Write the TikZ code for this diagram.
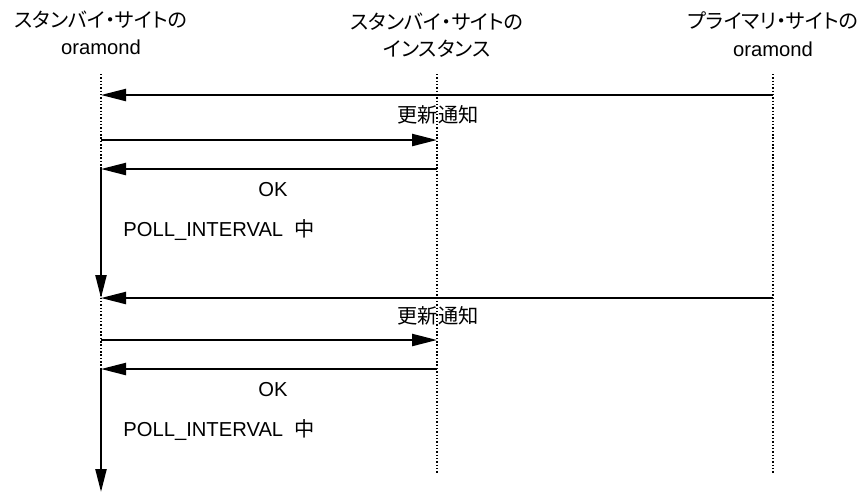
\documentclass[tikz,border=0pt]{standalone}
\usepackage{fontspec}
\setmainfont{Liberation Sans}
\newfontfamily\jp[RawFeature=+palt]{Noto Sans CJK JP}
\usetikzlibrary{positioning,arrows.meta}
\tikzset{
  hd/.style={align=center, font=\fontsize{11.5}{15.6}\selectfont, inner sep=0pt},
  lbl/.style={font=\fontsize{11.5}{14}\selectfont, inner sep=0pt},
  life/.style={draw=black, line width=0.8pt, dash pattern=on 0.8pt off 1.1pt},
  msg/.style={draw=black, line width=1.3pt, -{Triangle[length=0.5cm,width=0.24cm]}},
  wait/.style={draw=black, line width=1.3pt, -{Triangle[length=0.46cm,width=0.22cm]}}
}

\begin{document}
\begin{tikzpicture}
  \useasboundingbox (0,0) rectangle (17.24,-9.86);

  % Headers of the three lifelines
  \node[hd] (stby) at (2.02,-0.66) {{\jp スタンバイ・サイトの}\\oramond};
  \node[hd] (inst) at (8.74,-0.70) {{\jp スタンバイ・サイトの}\\{\jp インスタンス}};
  \node[hd] (prim) at (15.46,-0.68) {{\jp プライマリ・サイトの}\\oramond};

  % Lifelines
  \coordinate (st) at (2.02,-1.48);
  \coordinate (sb) at (2.02,-9.46);
  \coordinate (it) at (8.74,-1.48);
  \coordinate (ib) at (8.74,-9.46);
  \coordinate (pt) at (15.46,-1.48);
  \coordinate (pb) at (15.46,-9.46);
  \draw[life] (st) -- (sb);
  \draw[life] (it) -- (ib);
  \draw[life] (pt) -- (pb);

  % First cycle
  \coordinate (p1) at (15.46,-1.90);
  \coordinate (s1) at (2.02,-1.90);
  \coordinate (s2) at (2.02,-2.80);
  \coordinate (i2) at (8.74,-2.80);
  \coordinate (i3) at (8.74,-3.38);
  \coordinate (s3) at (2.02,-3.38);
  \coordinate (s4) at (2.02,-5.96);
  \draw[msg] (p1) -- (s1);
  \draw[msg] (s2) -- (i2);
  \draw[msg] (i3) -- (s3);
  \draw[wait] (s3) -- (s4);
  \node[lbl] (n1) at (8.76,-2.30) {\jp 更新通知};
  \node[lbl] (ok1) at (5.46,-3.80) {OK};
  \node[lbl, anchor=west] (w1) at (2.46,-4.60) {POLL\_INTERVAL\hspace{0.22cm}{\jp 中}};

  % Second cycle
  \coordinate (p4) at (15.46,-5.96);
  \coordinate (s5) at (2.02,-6.80);
  \coordinate (i5) at (8.74,-6.80);
  \coordinate (i6) at (8.74,-7.38);
  \coordinate (s6) at (2.02,-7.38);
  \coordinate (s7) at (2.02,-9.84);
  \draw[msg] (p4) -- (s4);
  \draw[msg] (s5) -- (i5);
  \draw[msg] (i6) -- (s6);
  \draw[wait] (s6) -- (s7);
  \node[lbl] (n2) at (8.76,-6.32) {\jp 更新通知};
  \node[lbl] (ok2) at (5.46,-7.80) {OK};
  \node[lbl, anchor=west] (w2) at (2.46,-8.60) {POLL\_INTERVAL\hspace{0.22cm}{\jp 中}};
\end{tikzpicture}
\end{document}
